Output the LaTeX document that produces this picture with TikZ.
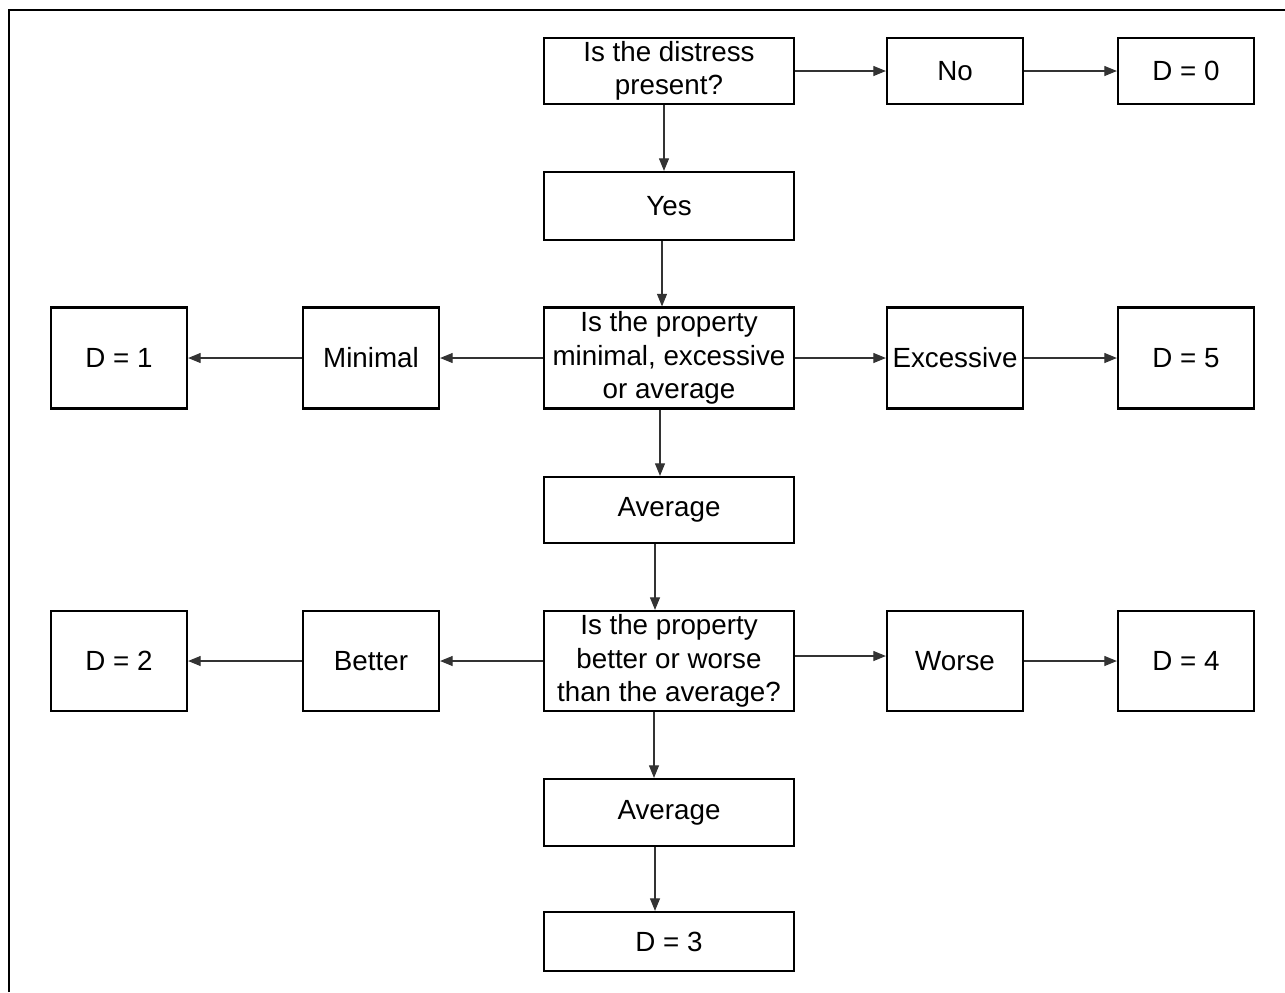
\documentclass[tikz,border=0pt]{standalone}
\usepackage{fontspec}
\setmainfont{Liberation Sans}
\usetikzlibrary{arrows.meta}
\tikzset{
  box/.style={draw, line width=1.3pt, inner sep=0pt, align=center,
    font=\fontsize{15.8}{19}\selectfont},
  wide/.style={box, minimum width=5cm},
  small/.style={box, minimum width=2.72cm},
  arr/.style={draw=black!80, line width=0.6pt, -{Triangle[length=0.25cm,width=0.2cm]}}
}
\begin{document}
\begin{tikzpicture}[x=0.02cm, y=-0.02cm]
\useasboundingbox (0,0) rectangle (1285,992);
\draw[line width=1.3pt] (9,992) -- (9,10) -- (1285,10);
% first question
\node[wide, minimum height=1.32cm] (dist) at (669,71) {Is the distress\\present?};
\node[small, minimum height=1.32cm] (no) at (955,71) {No};
\node[small, minimum height=1.32cm] (d0) at (1186,71) {D = 0};
\node[wide, minimum height=1.36cm] (yes) at (669,206) {Yes};
% second question
\node[wide, minimum height=2.02cm] (prop) at (669,358) {Is the property\\minimal, excessive\\or average};
\node[small, minimum height=2.02cm] (minl) at (371,358) {Minimal};
\node[small, minimum height=2.02cm] (d1) at (119,358) {D = 1};
\node[small, minimum height=2.02cm] (exc) at (955,358) {Excessive};
\node[small, minimum height=2.02cm] (d5) at (1186,358) {D = 5};
\node[wide, minimum height=1.32cm] (avg) at (669,510) {Average};
% third question
\node[wide, minimum height=2cm] (cmp) at (669,661) {Is the property\\better or worse\\than the average?};
\node[small, minimum height=2cm] (bet) at (371,661) {Better};
\node[small, minimum height=2cm] (d2) at (119,661) {D = 2};
\node[small, minimum height=2cm] (wor) at (955,661) {Worse};
\node[small, minimum height=2cm] (d4) at (1186,661) {D = 4};
\node[wide, minimum height=1.34cm] (avgb) at (669,812.5) {Average};
\node[wide, minimum height=1.18cm] (d3) at (669,941.5) {D = 3};
% connectors
\draw[arr] (dist) -- (no);
\draw[arr] (no) -- (d0);
\draw[arr] ([xshift=-0.1cm]dist.south) -- ([xshift=-0.1cm]yes.north);
\draw[arr] ([xshift=-0.14cm]yes.south) -- ([xshift=-0.14cm]prop.north);
\draw[arr] (prop) -- (minl);
\draw[arr] (minl) -- (d1);
\draw[arr] (prop) -- (exc);
\draw[arr] (exc) -- (d5);
\draw[arr] ([xshift=-0.18cm]prop.south) -- ([xshift=-0.18cm]avg.north);
\draw[arr] ([xshift=-0.28cm]avg.south) -- ([xshift=-0.28cm]cmp.north);
\draw[arr] (cmp) -- (bet);
\draw[arr] (bet) -- (d2);
\draw[arr] ([yshift=0.1cm]cmp.east) -- ([yshift=0.1cm]wor.west);
\draw[arr] (wor) -- (d4);
\draw[arr] ([xshift=-0.3cm]cmp.south) -- ([xshift=-0.3cm]avgb.north);
\draw[arr] ([xshift=-0.28cm]avgb.south) -- ([xshift=-0.28cm]d3.north);
\end{tikzpicture}
\end{document}
